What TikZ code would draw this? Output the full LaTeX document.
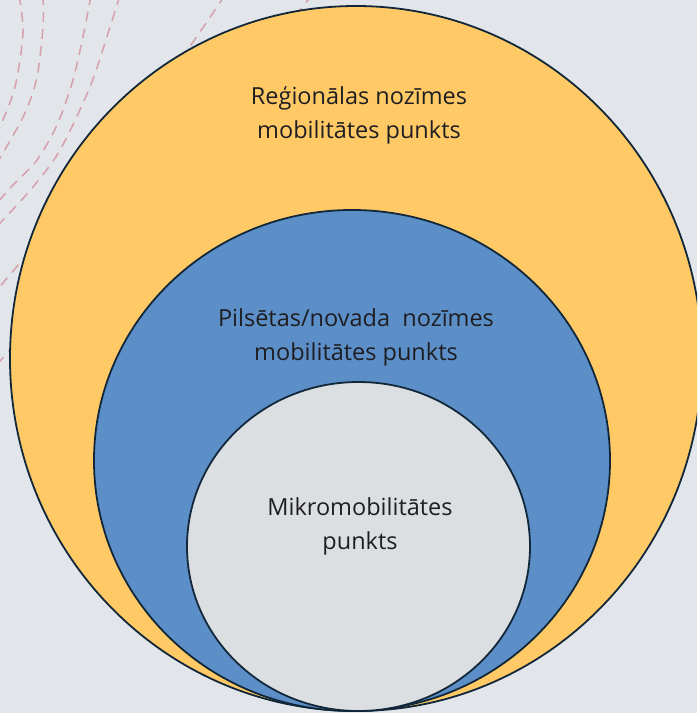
\documentclass[tikz,border=0pt]{standalone}
\usepackage{fontspec}
\setmainfont{Open Sans}
\usetikzlibrary{positioning}
\definecolor{pagegray}{RGB}{226,230,234}
\definecolor{regionyellow}{RGB}{255,202,102}
\definecolor{cityblue}{RGB}{92,143,199}
\definecolor{microgray}{RGB}{220,223,226}
\definecolor{ringline}{RGB}{18,40,58}
\definecolor{arcpink}{RGB}{214,160,170}
\definecolor{labeltext}{RGB}{30,30,34}

\begin{document}
\begin{tikzpicture}[x=1pt, y=-1pt,
  ring/.style={draw=ringline, line width=1.8pt},
  arcline/.style={draw=arcpink, line width=1.5pt, dash pattern=on 10pt off 7pt},
  ringlabel/.style={align=center, text=labeltext, font=\fontsize{23.5}{34}\selectfont}]
  \clip (0,0) rectangle (697,713);
  \fill[pagegray] (0,0) rectangle (697,713);

  % dashed arcs in the corner
  \draw[arcline] plot[smooth] coordinates {(19,-5) (23,33) (15,87) (0,127) (-3,133)};
  \draw[arcline] plot[smooth] coordinates {(43,-5) (43,27) (37,77) (25,113) (3,153) (-3,162)};
  \draw[arcline] plot[smooth] coordinates {(91,-5) (85,27) (73,80) (57,125) (37,160) (13,185) (-3,203)};
  \draw[arcline] plot[smooth] coordinates {(120,-5) (110,27) (90,87) (60,150) (33,187) (3,220) (-3,226)};
  \draw[arcline] plot[smooth] coordinates {(225,-5) (188,49) (120,140) (24,258) (-5,292)};
  \draw[arcline] plot[smooth] coordinates {(312,-5) (299,11) (200,130) (10,350) (-5,362)};

  % rings
  \filldraw[ring, fill=regionyellow] (356,358.5) ellipse [x radius=346, y radius=352.5];
  \filldraw[ring, fill=cityblue] (352,460.5) ellipse [x radius=258, y radius=250.5];
  \filldraw[ring, fill=microgray] (358.5,546.5) ellipse [x radius=171.5, y radius=164.5];

  \node[ringlabel] (regional) at (359,115) {Reģionālas nozīmes\\mobilitātes punkts};
  \node[ringlabel] (city) at (356,337) {Pilsētas/novada\ \ nozīmes\\mobilitātes punkts};
  \node[ringlabel] (micro) at (360,526) {Mikromobilitātes\\punkts};
\end{tikzpicture}
\end{document}
